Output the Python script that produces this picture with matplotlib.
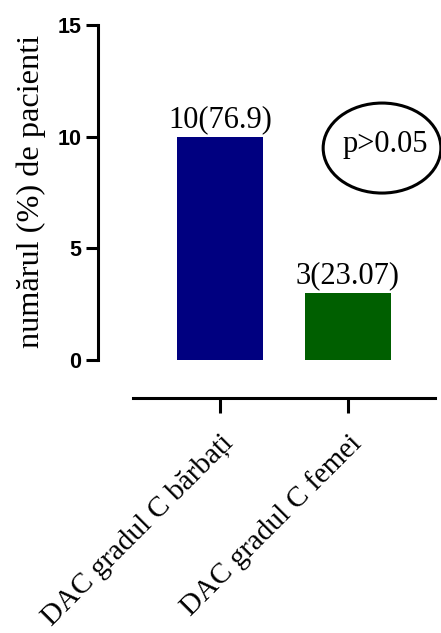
import matplotlib
matplotlib.use("Agg")
import matplotlib.pyplot as plt
from matplotlib.patches import Ellipse

categorii = ["DAC gradul C bărbați", "DAC gradul C femei"]
valori = [10, 3]
etichete = ["10(76.9)", "3(23.07)"]
culori = ["#000080", "#005f00"]
yticks = [0, 5, 10, 15]
text_p = "p>0.05"

SERIF = "Liberation Serif"
SANS = "Liberation Sans"
LW = 2.2

fig = plt.figure(figsize=(4.41, 6.33), dpi=100)
ax = fig.add_axes([133 / 441, 273 / 633, 302 / 441, 335 / 633])

x = list(range(len(categorii)))
ax.bar(x, valori, width=0.67, color=culori)

for xi, v, et in zip(x, valori, etichete):
    ax.annotate(et, (xi, v), xytext=(0, 2), textcoords="offset points",
                ha="center", va="bottom", family=SERIF, fontsize=22)

ax.add_patch(Ellipse((1.266, 9.49), 0.92, 4.03, fill=False, edgecolor="black",
                     linewidth=2.2, clip_on=False))
ax.text(1.29, 9.63, text_p, ha="center", va="center", family=SERIF, fontsize=22)

for s in ("top", "right"):
    ax.spines[s].set_visible(False)
ax.spines["left"].set_position(("outward", 25))
ax.spines["bottom"].set_position(("outward", 27.5))
ax.spines["left"].set_linewidth(LW)
ax.spines["bottom"].set_linewidth(LW)

ax.tick_params(axis="y", length=9, width=LW, pad=3)
ax.tick_params(axis="x", length=11, width=LW, pad=12)

ax.set_xlim(-0.68, 1.68)
ax.set_ylim(0, 15)
ax.set_yticks(yticks, labels=[str(t) for t in yticks])
ax.set_xticks(x, labels=categorii)
for lbl in ax.get_yticklabels():
    lbl.set_family(SANS)
    lbl.set_fontweight("bold")
    lbl.set_fontsize(15.5)
for lbl in ax.get_xticklabels():
    lbl.set_family(SERIF)
    lbl.set_fontsize(21)
    lbl.set_rotation(45)
    lbl.set_rotation_mode("anchor")
    lbl.set_ha("right")
    lbl.set_va("top")

fig.text(31 / 441, 0.697, "numărul (%) de pacienti", rotation=90, ha="center",
         va="center", family=SERIF, fontsize=23.3)

fig.savefig("out.png", dpi=100)
